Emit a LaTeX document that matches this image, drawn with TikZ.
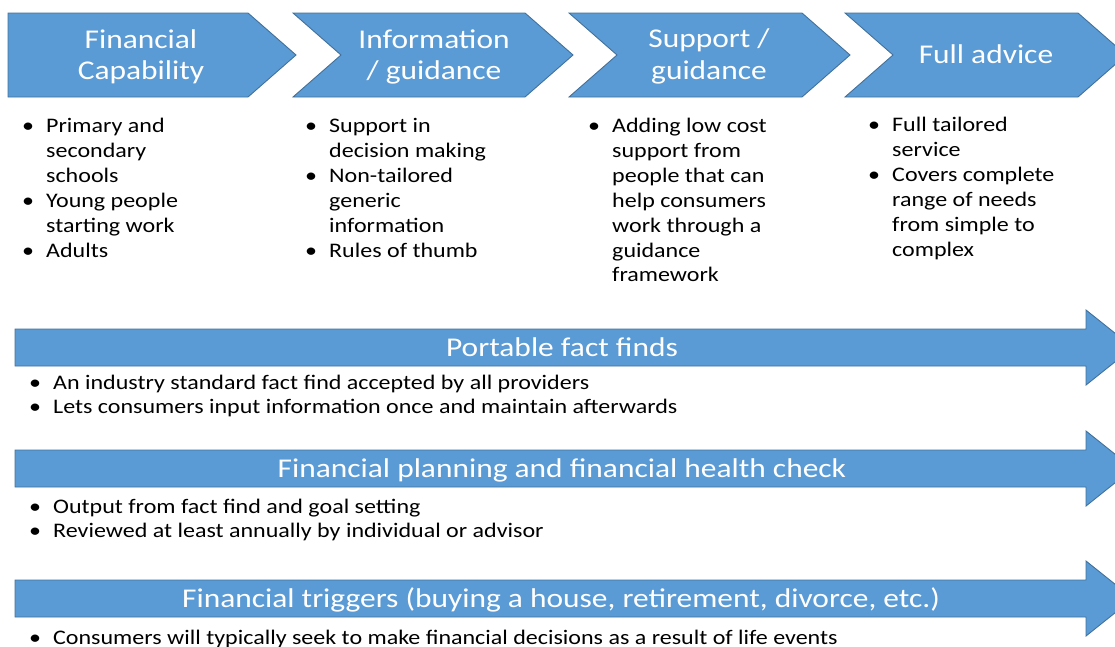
\documentclass[tikz,border=0pt]{standalone}
\usepackage{fontspec}
\setmainfont{Carlito}[FakeStretch=1.16]
\definecolor{stageblue}{HTML}{5B9BD5}
\definecolor{stageedge}{HTML}{41719C}
\newcommand\bul{\makebox[24pt][l]{•}}
\tikzset{
  stageshape/.style={fill=stageblue, draw=stageedge, line width=0.9pt, line join=miter},
  headtext/.style={text=white, anchor=base, inner sep=0pt, font=\fontsize{27.1}{31.5}\selectfont},
  bodylist/.style={anchor=base west, inner sep=0pt, font=\fontsize{20.7}{24.9}\selectfont},
}
\begin{document}
\begin{tikzpicture}[x=1pt,y=-1pt]
\useasboundingbox (0,0) rectangle (1115,646);
\clip (0,0) rectangle (1115,646);

% stage chevrons
\draw[stageshape] (8,13) -- (248,13) -- (296,55) -- (248,97) -- (8,97) -- cycle;
\draw[stageshape] (293,13) -- (525,13) -- (573,55) -- (525,97) -- (293,97) -- (341,55) -- cycle;
\draw[stageshape] (569,13) -- (802,13) -- (850,55) -- (802,97) -- (569,97) -- (617,55) -- cycle;
\draw[stageshape] (845,13) -- (1078,13) -- (1126,55) -- (1078,97) -- (845,97) -- (893,55) -- cycle;

\node[headtext] (stage1) at (141,48) {\begin{tabular}[t]{@{}c@{}}Financial\\Capability\end{tabular}};
\node[headtext] (stage2) at (434,48) {\begin{tabular}[t]{@{}c@{}}Information\\/ guidance\end{tabular}};
\node[headtext] (stage3) at (709,47.5) {\begin{tabular}[t]{@{}c@{}}Support /\\guidance\end{tabular}};
\node[headtext] (stage4) at (986,63.5) {Full advice};

% stage descriptions
\node[bodylist] (list1) at (22,132.5) {\begin{tabular}[t]{@{}l@{}l@{}}
\bul & Primary and\\ & secondary\\ & schools\\
\bul & Young people\\ & starting work\\
\bul & Adults\end{tabular}};
\node[bodylist] (list2) at (305,132.5) {\begin{tabular}[t]{@{}l@{}l@{}}
\bul & Support in\\ & decision making\\
\bul & Non-tailored\\ & generic\\ & information\\
\bul & Rules of thumb\end{tabular}};
\node[bodylist] (list3) at (588,132.5) {\begin{tabular}[t]{@{}l@{}l@{}}
\bul & Adding low cost\\ & support from\\ & people that can\\ & help consumers\\ & work through a\\ & guidance\\ & framework\end{tabular}};
\node[bodylist] (list4) at (868,131.5) {\begin{tabular}[t]{@{}l@{}l@{}}
\bul & Full tailored\\ & service\\
\bul & Covers complete\\ & range of needs\\ & from simple to\\ & complex\end{tabular}};

% cross-cutting block arrows
\draw[stageshape] (15,329) -- (1086,329) -- (1086,310) -- (1133,347.5) -- (1086,385) -- (1086,366) -- (15,366) -- cycle;
\draw[stageshape] (15,450) -- (1086,450) -- (1086,431) -- (1133,468.5) -- (1086,506) -- (1086,487) -- (15,487) -- cycle;
\draw[stageshape] (15,580) -- (1086,580) -- (1086,561) -- (1133,598.5) -- (1086,636) -- (1086,617) -- (15,617) -- cycle;

\node[headtext] (band1) at (562,356.5) {Portable fact finds};
\node[headtext] (band2) at (562,477.5) {Financial planning and financial health check};
\node[headtext] (band3) at (561,607.5) {Financial triggers (buying a house, retirement, divorce, etc.)};

\node[bodylist] (notes1) at (29,389) {\begin{tabular}[t]{@{}l@{}l@{}}
\bul & An industry standard fact find accepted by all providers\\
\bul & Lets consumers input information once and maintain afterwards\end{tabular}};
\node[bodylist] (notes2) at (29,513) {\begin{tabular}[t]{@{}l@{}l@{}}
\bul & Output from fact find and goal setting\\
\bul & Reviewed at least annually by individual or advisor\end{tabular}};
\node[bodylist] (notes3) at (29,644) {\begin{tabular}[t]{@{}l@{}l@{}}
\bul & Consumers will typically seek to make financial decisions as a result of life events\end{tabular}};
\end{tikzpicture}
\end{document}
